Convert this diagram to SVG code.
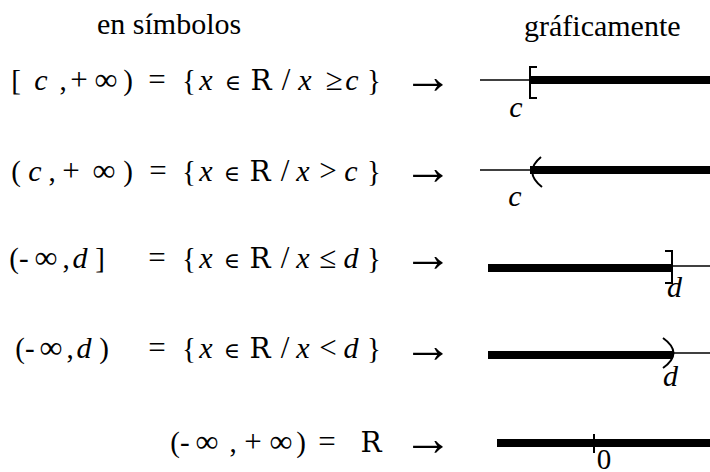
<svg xmlns="http://www.w3.org/2000/svg" width="710" height="472" viewBox="0 0 710 472">
<style>
text{font-family:"Liberation Serif","Times New Roman",serif;font-size:29px;fill:#000}
.h{font-size:30px}
.m{text-anchor:middle}
.i{font-style:italic;font-size:30px}
.s{font-size:31px}
.inf{font-size:32px}
.el{font-family:"DejaVu Serif",serif;font-size:22px}
.r{font-family:"DejaVu Serif",serif;font-size:28px}
.ar{font-size:50px;text-anchor:middle}
.thin{stroke:#000;stroke-width:1.5;fill:none}
.thick{stroke:#000;stroke-width:8;fill:none}
.br{stroke:#000;stroke-width:2;fill:none}
</style>
<rect width="710" height="472" fill="#fff"/>
<g id="headers">
<text class="h" x="97" y="34">en símbolos</text>
<text class="h" x="524" y="36">gráficamente</text>
</g>
<g id="row1">
<text class="m" y="90"><tspan x="16">[</tspan><tspan x="41" class="i">c</tspan><tspan x="63">,</tspan><tspan x="79" class="s">+</tspan><tspan x="106" class="inf">∞</tspan><tspan x="128">)</tspan><tspan x="157" class="s">=</tspan><tspan x="189">{</tspan><tspan x="206" class="i">x</tspan><tspan x="233" class="el">∈</tspan><tspan x="261" class="r">R</tspan><tspan x="286" class="s">/</tspan><tspan x="305" class="i">x</tspan><tspan x="334" class="s">≥</tspan><tspan x="352" class="i">c</tspan><tspan x="374">}</tspan></text>
<text class="ar" x="428" y="93">→</text>
<line class="thin" x1="480" y1="80" x2="530" y2="80"/>
<line class="thick" x1="530" y1="80" x2="710" y2="80"/>
<path class="br" d="M537,67 H530 V98 H537"/>
<text class="m i" x="516" y="117">c</text>
</g>
<g id="row2">
<text class="m" y="181"><tspan x="16">(</tspan><tspan x="35" class="i">c</tspan><tspan x="52">,</tspan><tspan x="71" class="s">+</tspan><tspan x="104" class="inf">∞</tspan><tspan x="128">)</tspan><tspan x="158" class="s">=</tspan><tspan x="189">{</tspan><tspan x="206" class="i">x</tspan><tspan x="232" class="el">∈</tspan><tspan x="260" class="r">R</tspan><tspan x="285" class="s">/</tspan><tspan x="303" class="i">x</tspan><tspan x="328" class="s">&gt;</tspan><tspan x="351" class="i">c</tspan><tspan x="374">}</tspan></text>
<text class="ar" x="428" y="184">→</text>
<line class="thin" x1="480" y1="170" x2="530" y2="170"/>
<line class="thick" x1="530" y1="170" x2="710" y2="170"/>
<path class="br" d="M541,157 Q523,172 542,187"/>
<text class="m i" x="515" y="206">c</text>
</g>
<g id="row3">
<text class="m" y="268"><tspan x="19">(-</tspan><tspan x="46" class="inf">∞</tspan><tspan x="66">,</tspan><tspan x="80" class="i">d</tspan><tspan x="100">]</tspan><tspan x="157" class="s">=</tspan><tspan x="189">{</tspan><tspan x="206" class="i">x</tspan><tspan x="232" class="el">∈</tspan><tspan x="260" class="r">R</tspan><tspan x="285" class="s">/</tspan><tspan x="303" class="i">x</tspan><tspan x="328" class="s">≤</tspan><tspan x="351" class="i">d</tspan><tspan x="374">}</tspan></text>
<text class="ar" x="428" y="271">→</text>
<line class="thick" x1="488" y1="268" x2="672" y2="268"/>
<line class="thin" x1="672" y1="266" x2="710" y2="266"/>
<path class="br" d="M665,251 H672 V283 H665"/>
<text class="i" x="667" y="297">d</text>
</g>
<g id="row4">
<text class="m" y="358"><tspan x="25">(-</tspan><tspan x="51" class="inf">∞</tspan><tspan x="70">,</tspan><tspan x="84" class="i">d</tspan><tspan x="104">)</tspan><tspan x="157" class="s">=</tspan><tspan x="189">{</tspan><tspan x="206" class="i">x</tspan><tspan x="232" class="el">∈</tspan><tspan x="260" class="r">R</tspan><tspan x="285" class="s">/</tspan><tspan x="303" class="i">x</tspan><tspan x="328" class="s">&lt;</tspan><tspan x="351" class="i">d</tspan><tspan x="374">}</tspan></text>
<text class="ar" x="428" y="362">→</text>
<line class="thick" x1="488" y1="355" x2="673" y2="355"/>
<line class="thin" x1="673" y1="353" x2="710" y2="353"/>
<path class="br" d="M663,338 Q684,353 663,368"/>
<text class="i" x="663" y="386">d</text>
</g>
<g id="row5">
<text class="m" y="452"><tspan x="180">(-</tspan><tspan x="207" class="inf">∞</tspan><tspan x="233">,</tspan><tspan x="253" class="s">+</tspan><tspan x="281" class="inf">∞</tspan><tspan x="301">)</tspan><tspan x="327" class="s">=</tspan><tspan x="371" class="r">R</tspan></text>
<text class="ar" x="428" y="455">→</text>
<line class="thick" x1="497" y1="443" x2="710" y2="443"/>
<line class="br" x1="594" y1="434" x2="594" y2="453"/>
<text class="m" x="604" y="469">0</text>
</g>
</svg>
